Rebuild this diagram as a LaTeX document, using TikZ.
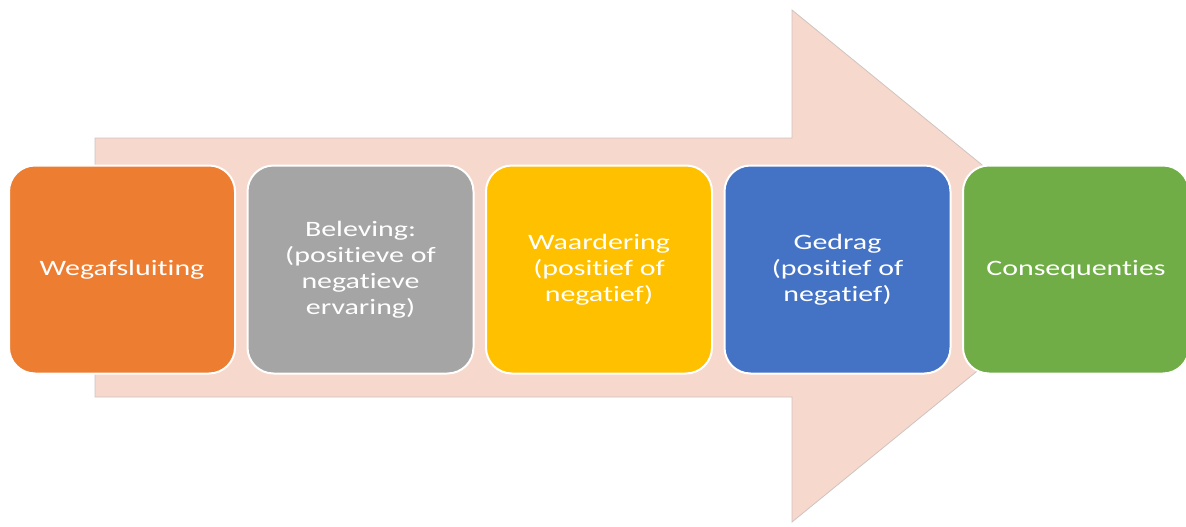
\documentclass[tikz,border=0pt]{standalone}
\usepackage{fontspec}
\setmainfont{Carlito}
\newfontfamily\boxfont[FakeStretch=1.36,RawFeature=-liga]{Carlito}
\usepackage{xcolor}
\usetikzlibrary{positioning}

\definecolor{arrowpink}{HTML}{F7D8CD}
\definecolor{arrowedge}{HTML}{CFC4C0}
\definecolor{stepOrange}{HTML}{ED7D31}
\definecolor{stepGray}{HTML}{A5A5A5}
\definecolor{stepYellow}{HTML}{FFC000}
\definecolor{stepBlue}{HTML}{4472C4}
\definecolor{stepGreen}{HTML}{70AD47}

\tikzset{
  stepbox/.style={draw=white,line width=2pt,rounded corners=26pt,
    minimum width=226pt,minimum height=208pt,inner sep=0pt,
    align=center,text=white,font=\boxfont\fontsize{22}{26}\selectfont},
}

\begin{document}
\begin{tikzpicture}[x=1pt,y=-1pt]
  \useasboundingbox (0,0) rectangle (1186,527);
  % big background arrow
  \draw[arrowedge,fill=arrowpink,line width=0.8pt]
    (95,138) -- (792,138) -- (792,10) -- (1106,266)
    -- (792,522) -- (792,397) -- (95,397) -- cycle;
  % the five steps
  \node[stepbox,fill=stepOrange] (wegaf) at (122,269.5) {Wegafsluiting};
  \node[stepbox,fill=stepGray] (beleving) at (360.5,269.5) {Beleving:\\(positieve of\\negatieve\\ervaring)};
  \node[stepbox,fill=stepYellow] (waardering) at (599,269.5) {Waardering\\(positief of\\negatief)};
  \node[stepbox,fill=stepBlue] (gedrag) at (837.5,269.5) {Gedrag\\(positief of\\negatief)};
  \node[stepbox,fill=stepGreen] (conseq) at (1076,269.5) {Consequenties};
\end{tikzpicture}
\end{document}
